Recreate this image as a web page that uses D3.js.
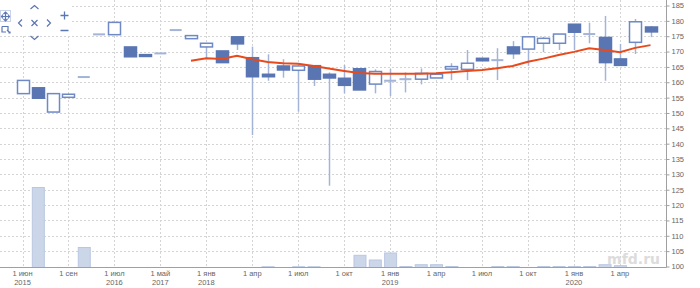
<!DOCTYPE html>
<html>
<head>
<meta charset="utf-8">
<script src="https://cdn.jsdelivr.net/npm/d3@7"></script>
<style>
  body { margin: 0; background: #fff; }
  svg { display: block; font-family: "Liberation Sans", Arial, sans-serif; }
</style>
</head>
<body>
<div id="chart"></div>
<script>
// monthly candles, index 0 = jun 2015 (gaps in the calendar are skipped)
const opens  = [156.3,158.2,150.3,155.1,161.7,175.6,175.5,171.5,169.0,169.4,177.0,174.2,171.5,170.2,174.8,168.0,162.6,165.3,163.9,165.4,162.6,161.3,164.4,159.4,160.5,161.0,161.0,161.4,164.3,164.2,167.8,167.2,171.5,170.8,172.7,172.7,178.9,175.7,174.6,167.6,173.0,178.0];
const closes = [160.6,154.8,156.3,156.1,161.7,175.6,179.5,168.3,168.4,169.4,177.0,175.2,172.7,166.4,172.5,161.8,161.8,164.0,165.3,161.0,161.4,159.0,157.5,163.5,160.5,161.0,162.9,162.6,165.1,166.2,167.0,167.2,169.3,174.8,174.3,175.7,176.3,175.7,166.4,165.5,179.7,176.4];
const highs  = [160.6,158.2,156.3,156.1,161.7,175.6,179.5,171.5,169.0,169.4,177.0,175.2,172.7,170.2,174.8,171.6,169.1,167.5,166.0,165.4,163.2,165.6,164.4,164.2,164.3,163.2,164.5,162.6,166.2,170.5,167.8,171.1,173.4,174.8,174.8,175.7,178.9,179.4,181.6,172.5,180.6,178.3];
const lows   = [156.3,154.8,150.3,155.1,161.7,175.6,175.5,168.3,168.4,169.4,177.0,174.2,167.5,166.4,170.5,142.8,160.5,161.5,150.4,158.8,126.3,156.4,157.5,156.4,155.5,156.7,159.3,161.4,160.7,160.7,167.0,160.7,167.6,165.4,169.8,170.5,170.5,172.7,160.5,165.5,169.2,174.7];
// moving average, starts at index 11
const maStart = 11;
const ma = [167.0,167.8,167.6,168.6,167.5,166.6,166.2,166.0,165.3,164.5,163.7,163.0,162.8,162.8,162.8,162.8,162.9,163.3,163.7,164.0,164.6,165.3,166.7,167.7,168.9,169.9,171.1,170.5,169.8,171.2,172.1];
const volumes = [0,80,0,0,20,0,0,0,0,0,0,0,0,0,0,0,0.8,0,0.8,0.8,0,0,12.2,7.5,14.5,1,2.8,2.8,1,0,0,1,1,0,1,1,1,1,2.8,1.8,0,0];
const tickIdx = [0,3,6,9,12,15,18,21,24,27,30,33,36,39];
const tickMonth = ["1 июн","1 сен","1 июл","1 май","1 янв","1 апр","1 июл","1 окт","1 янв","1 апр","1 июл","1 окт","1 янв","1 апр"];
const tickYear = ["2015","","2016","2017","2018","","","","2019","","","","2020",""];
const yTicks = d3.range(100, 186, 5);

const width = 700, height = 288;
const plotRight = 666, plotBottom = 267.5;

const svg = d3.select("#chart").append("svg")
  .attr("width", width).attr("height", height);

const x = d3.scaleLinear().domain([0, 41]).range([22.5, 650.5]);
const y = d3.scaleLinear().domain([100, 185]).range([266.5, 5.5]);
const vol = d3.scaleLinear().domain([0, d3.max(volumes)]).range([0, 80]);
const bw = 12;

const downFill = "#5a76b2", upStroke = "#6e89c4", wickColor = "#a3b4d8";

// grid
svg.append("g").selectAll("line").data(yTicks).join("line")
  .attr("x1", 0).attr("x2", plotRight)
  .attr("y1", d => Math.round(y(d)) + 0.5).attr("y2", d => Math.round(y(d)) + 0.5)
  .attr("stroke", "#d4d4d4").attr("stroke-dasharray", "2,2");
svg.append("g").selectAll("line").data(tickIdx).join("line")
  .attr("x1", d => Math.round(x(d)) + 0.5).attr("x2", d => Math.round(x(d)) + 0.5)
  .attr("y1", 0).attr("y2", plotBottom)
  .attr("stroke", "#d4d4d4").attr("stroke-dasharray", "2,2");

// volume
svg.append("g").selectAll("rect").data(volumes.map((v, i) => ({v, i})).filter(d => d.v > 0)).join("rect")
  .attr("x", d => x(d.i) - bw / 2 + 0.5).attr("width", bw)
  .attr("y", d => plotBottom - vol(d.v)).attr("height", d => vol(d.v))
  .attr("fill", "#ccd6e9").attr("stroke", "#bac7e1").attr("stroke-width", 1);

// candles
const candles = opens.map((o, i) => ({i, o, c: closes[i], h: highs[i], l: lows[i]}));
const cg = svg.append("g");
cg.selectAll("line.wick").data(candles.filter(d => d.h > d.l)).join("line")
  .attr("class", "wick")
  .attr("x1", d => Math.round(x(d.i)) + 0.5).attr("x2", d => Math.round(x(d.i)) + 0.5)
  .attr("y1", d => y(d.h)).attr("y2", d => y(d.l))
  .attr("stroke", wickColor).attr("stroke-width", 1.5);
cg.selectAll("rect.body").data(candles.filter(d => d.o !== d.c)).join("rect")
  .attr("class", "body")
  .attr("x", d => Math.round(x(d.i) - bw / 2) + 0.5).attr("width", bw)
  .attr("y", d => y(Math.max(d.o, d.c))).attr("height", d => Math.max(1, Math.abs(y(d.o) - y(d.c))))
  .attr("fill", d => d.c > d.o ? "#fff" : downFill)
  .attr("stroke", d => d.c > d.o ? upStroke : downFill).attr("stroke-width", 1.5);
cg.selectAll("line.doji").data(candles.filter(d => d.o === d.c)).join("line")
  .attr("class", "doji")
  .attr("x1", d => x(d.i) - bw / 2).attr("x2", d => x(d.i) + bw / 2)
  .attr("y1", d => y(d.o)).attr("y2", d => y(d.o))
  .attr("stroke", wickColor).attr("stroke-width", 2);

// moving average
svg.append("path")
  .datum(ma)
  .attr("fill", "none").attr("stroke", "#e84a1c").attr("stroke-width", 2)
  .attr("d", d3.line().x((d, k) => x(maStart + k)).y(d => y(d)));

// watermark
svg.append("text").attr("x", 660).attr("y", 264).attr("text-anchor", "end")
  .attr("font-size", 14).attr("font-weight", "bold").attr("fill", "#dcdcdc")
  .attr("font-family", "DejaVu Sans, sans-serif").text("mfd.ru");

// axes lines
svg.append("line").attr("x1", 0).attr("x2", plotRight + 0.5)
  .attr("y1", plotBottom).attr("y2", plotBottom).attr("stroke", "#a0a0a0");
svg.append("line").attr("x1", plotRight + 0.5).attr("x2", plotRight + 0.5)
  .attr("y1", 0).attr("y2", plotBottom).attr("stroke", "#a0a0a0");

// y axis on the right
const yAxis = d3.axisRight(y).tickValues(yTicks).tickSize(3).tickPadding(2);
const ya = svg.append("g").attr("transform", `translate(${plotRight + 0.5},0)`).call(yAxis);
ya.select(".domain").remove();
ya.selectAll("line").attr("stroke", "#a0a0a0");
ya.selectAll("text").attr("font-size", 7.5).attr("fill", "#666").attr("font-family", null);

// x labels
const xl = svg.append("g").selectAll("g").data(tickIdx).join("g")
  .attr("transform", d => `translate(${x(d)},0)`);
xl.append("text").attr("y", 276).attr("text-anchor", "middle")
  .attr("font-size", 7.5).attr("fill", "#666").text((d, k) => tickMonth[k]);
xl.append("text").attr("y", 284.5).attr("text-anchor", "middle")
  .attr("font-size", 7.5).attr("fill", "#666").text((d, k) => tickYear[k]);

// navigator controls
const nav = svg.append("g");
nav.append("rect").attr("x", 0).attr("y", 0).attr("width", 72).attr("height", 34).attr("fill", "#fff");
const navColor = "#5b76b5";
nav.append("rect").attr("x", 0.5).attr("y", 10.5).attr("width", 10).attr("height", 11)
  .attr("fill", "none").attr("stroke", "#c8d3ea");
nav.append("path").attr("d", "M5.5,12 V21 M1.5,16.5 H9.5 M3.5,14 L5.5,12 L7.5,14 M3.5,19 L5.5,21 L7.5,19 M3,14.5 L1.5,16.5 L3,18.5 M8,14.5 L9.5,16.5 L8,18.5")
  .attr("fill", "none").attr("stroke", navColor).attr("stroke-width", 1.2);
nav.append("path").attr("d", "M2,26.5 H8 V31 M2,26.5 V32 H6 M7,30 L10,33 M8.5,33 H10 V31.5")
  .attr("fill", "none").attr("stroke", navColor).attr("stroke-width", 1.2);
nav.append("path").attr("d", "M30.5,9 L34.5,5.5 L38.5,9 M30.5,36 L34.5,39.5 L38.5,36 M22,19.5 L18.5,23 L22,26.5 M47,19.5 L50.5,23 L47,26.5 M31.5,20 L37.5,26 M37.5,20 L31.5,26")
  .attr("fill", "none").attr("stroke", navColor).attr("stroke-width", 1.2);
nav.append("path").attr("d", "M60.5,15.5 H68.5 M64.5,11.5 V19.5 M60.5,30.5 H68.5")
  .attr("fill", "none").attr("stroke", navColor).attr("stroke-width", 1.3);
</script>
</body>
</html>
